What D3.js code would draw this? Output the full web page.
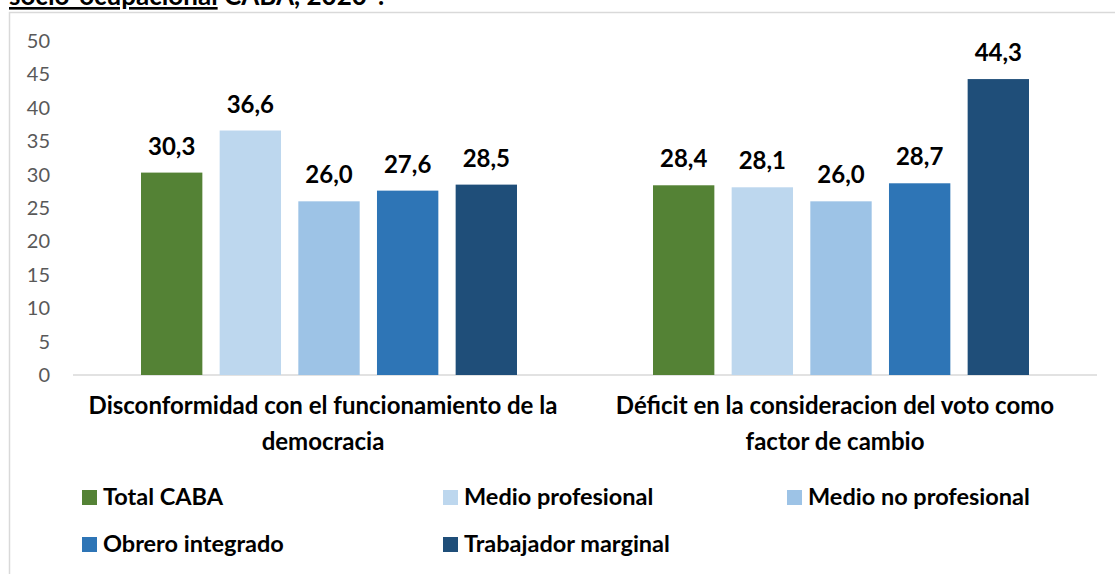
<!DOCTYPE html>
<html>
<head>
<meta charset="utf-8">
<script src="https://cdn.jsdelivr.net/npm/d3@7"></script>
<style>
  body { margin: 0; background: #fff; }
  svg { display: block; }
  text { font-family: Lato, "Open Sans", sans-serif; }
</style>
</head>
<body>
<svg id="chart" width="1115" height="574"></svg>
<script>
// data
const categories = ["Disconformidad con el funcionamiento de la democracia",
  "Déficit en la consideracion del voto como factor de cambio"];
const categoryLines = [
  ["Disconformidad con el funcionamiento de la", "democracia"],
  ["Déficit en la consideracion del voto como", "factor de cambio"]
];
const seriesNames = ["Total CABA", "Medio profesional", "Medio no profesional",
  "Obrero integrado", "Trabajador marginal"];
const totalCaba = [30.3, 28.4];
const medioProfesional = [36.6, 28.1];
const medioNoProfesional = [26.0, 26.0];
const obreroIntegrado = [27.6, 28.7];
const trabajadorMarginal = [28.5, 44.3];
const yTicks = [0, 5, 10, 15, 20, 25, 30, 35, 40, 45, 50];
const seriesColors = ["#548235", "#BDD7EE", "#9DC3E6", "#2E75B6", "#1F4E79"];

const seriesValues = [totalCaba, medioProfesional, medioNoProfesional,
  obreroIntegrado, trabajadorMarginal];

const svg = d3.select("#chart");

// frame of the chart area (only left and top edges are visible)
svg.append("path")
  .attr("d", "M9.5,574 V12.5 H1115")
  .attr("fill", "none")
  .attr("stroke", "#d9d9d9")
  .attr("stroke-width", 1.5);

// title, cut off at the top of the picture
const title = svg.append("text")
  .attr("x", 9)
  .attr("y", 5)
  .attr("font-size", 26)
  .attr("font-weight", "bold")
  .attr("fill", "#000");
title.append("tspan").attr("text-decoration", "underline").text("socio-ocupacional");
title.append("tspan").text(" CABA, 2020*:");

const plot = { left: 73, right: 1097, top: 41, bottom: 375 };

const x0 = d3.scaleBand()
  .domain(categories)
  .range([plot.left, plot.right])
  .padding(0);

const groupGap = 68;
const x1 = d3.scaleBand()
  .domain(seriesNames)
  .range([groupGap, x0.bandwidth() - groupGap])
  .paddingInner(0.22)
  .paddingOuter(0);

const y = d3.scaleLinear()
  .domain([0, 50])
  .range([plot.bottom, plot.top]);

// y axis labels
const yAxis = d3.axisLeft(y)
  .tickValues(yTicks)
  .tickSize(0)
  .tickPadding(23)
  .tickFormat(d3.format("d"));

svg.append("g")
  .attr("transform", `translate(${plot.left},0)`)
  .call(yAxis)
  .call(g => g.select(".domain").remove())
  .selectAll("text")
  .attr("font-family", "Lato, sans-serif")
  .attr("font-size", 20)
  .attr("fill", "#595959");

// baseline
svg.append("line")
  .attr("x1", plot.left)
  .attr("x2", plot.right)
  .attr("y1", y(0))
  .attr("y2", y(0))
  .attr("stroke", "#d9d9d9")
  .attr("stroke-width", 1.5);

// bars
const groups = svg.selectAll("g.cat")
  .data(categories)
  .join("g")
  .attr("class", "cat")
  .attr("transform", d => `translate(${x0(d)},0)`);

groups.each(function (cat, ci) {
  const g = d3.select(this);
  const rows = seriesNames.map((s, si) => ({ s, si, v: seriesValues[si][ci] }));

  g.selectAll("rect")
    .data(rows)
    .join("rect")
    .attr("x", d => x1(d.s))
    .attr("y", d => y(d.v))
    .attr("width", x1.bandwidth())
    .attr("height", d => y(0) - y(d.v))
    .attr("fill", d => seriesColors[d.si]);

  g.selectAll("text.val")
    .data(rows)
    .join("text")
    .attr("class", "val")
    .attr("x", d => x1(d.s) + x1.bandwidth() / 2)
    .attr("y", d => y(d.v) - 18)
    .attr("text-anchor", "middle")
    .attr("font-size", 24)
    .attr("font-weight", "bold")
    .attr("fill", "#000")
    .text(d => d3.format(".1f")(d.v).replace(".", ","));
});

// category labels (two lines each)
svg.selectAll("text.cat-label")
  .data(categories)
  .join("text")
  .attr("class", "cat-label")
  .attr("text-anchor", "middle")
  .attr("font-size", 24)
  .attr("font-weight", "bold")
  .attr("fill", "#000")
  .each(function (d, i) {
    const t = d3.select(this);
    categoryLines[i].forEach((line, li) => {
      t.append("tspan")
        .attr("x", x0(d) + x0.bandwidth() / 2 - 6)
        .attr("y", 414 + li * 36)
        .text(line);
    });
  });

// legend
const legendCols = [82, 443, 787];
const legendRows = [505, 552];
const legend = svg.selectAll("g.legend")
  .data(seriesNames)
  .join("g")
  .attr("class", "legend")
  .attr("transform", (d, i) => `translate(${legendCols[i % 3]},${legendRows[Math.floor(i / 3)]})`);

legend.append("rect")
  .attr("x", 0)
  .attr("y", -15)
  .attr("width", 15)
  .attr("height", 15)
  .attr("fill", (d, i) => seriesColors[i]);

legend.append("text")
  .attr("x", 21)
  .attr("y", 0)
  .attr("font-size", 23.5)
  .attr("font-weight", "bold")
  .attr("fill", "#000")
  .text(d => d);
</script>
</body>
</html>
